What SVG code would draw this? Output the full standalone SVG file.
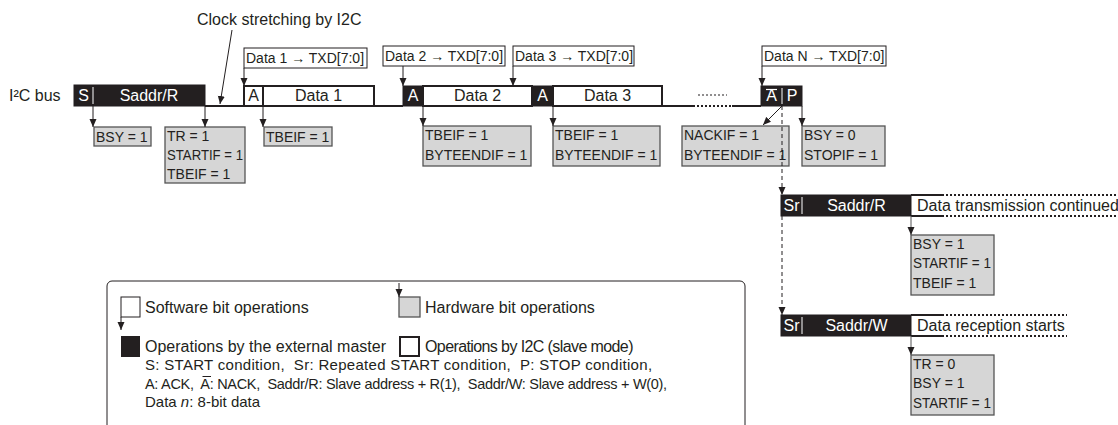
<svg xmlns="http://www.w3.org/2000/svg" width="1118" height="425" viewBox="0 0 1118 425">
<defs>
<style>
text{font-family:"Liberation Sans",Arial,Helvetica,sans-serif;fill:#231f20}
.t16{font-size:16px}
.t14{font-size:14px}
.w{fill:#fff}
.blk{fill:#231f20;stroke:#231f20;stroke-width:1}
.wht{fill:#fff;stroke:#231f20;stroke-width:2}
.flag{fill:#d6d6d6;stroke:#555;stroke-width:1.3}
.lbl{fill:#fff;stroke:#231f20;stroke-width:1}
.ln{stroke:#231f20;stroke-width:1;fill:none}
.bus{stroke:#231f20;stroke-width:2;fill:none}
.dot{stroke:#231f20;stroke-width:2;stroke-dasharray:2,2;fill:none}
.dash{stroke:#231f20;stroke-width:1;stroke-dasharray:4,3;fill:none}
.div{stroke:#fff;stroke-width:1}
</style>
<marker id="ah" viewBox="0 0 8 8" refX="8" refY="4" markerWidth="8" markerHeight="8" orient="auto" markerUnits="userSpaceOnUse">
<path d="M0,0.5 L8,4 L0,7.5 z" fill="#231f20"/>
</marker>
</defs>
<rect width="1118" height="425" fill="#fff"/>

<g id="title">
<text class="t16" x="197" y="25">Clock stretching by I2C</text>
<text class="t16" x="9" y="101">I²C bus</text>
</g>

<g id="bus-lines">
<line class="bus" x1="205" y1="106" x2="244" y2="106"/>
<line class="bus" x1="374" y1="106" x2="403" y2="106"/>
<line class="bus" x1="662" y1="106" x2="693" y2="106"/>
<line class="dot" x1="693" y1="106" x2="732" y2="106"/>
<line class="dot" x1="698" y1="95" x2="727" y2="95" style="stroke-width:1.2"/>
<line class="bus" x1="732" y1="106" x2="761" y2="106"/>
</g>

<g id="start-saddr">
<rect class="blk" x="74" y="85" width="131" height="21"/>
<line class="div" x1="93" y1="87" x2="93" y2="104"/>
<text class="t16 w" x="83.5" y="101" text-anchor="middle">S</text>
<text class="t16 w" x="149" y="101" text-anchor="middle">Saddr/R</text>
</g>

<g id="data1">
<rect class="wht" x="244" y="86" width="130" height="20"/>
<line class="ln" x1="263" y1="86" x2="263" y2="106" style="stroke-width:2"/>
<text class="t16" x="253.5" y="101" text-anchor="middle">A</text>
<text class="t16" x="318.5" y="101" text-anchor="middle">Data 1</text>
</g>

<g id="data2">
<rect class="blk" x="403" y="86" width="20" height="20"/>
<text class="t16 w" x="413" y="101" text-anchor="middle">A</text>
<rect class="wht" x="423" y="86" width="109" height="20"/>
<text class="t16" x="477.5" y="101" text-anchor="middle">Data 2</text>
</g>

<g id="data3">
<rect class="blk" x="532" y="86" width="21" height="20"/>
<text class="t16 w" x="542.5" y="101" text-anchor="middle">A</text>
<rect class="wht" x="553" y="86" width="109" height="20"/>
<text class="t16" x="607.5" y="101" text-anchor="middle">Data 3</text>
</g>

<g id="nack-stop">
<rect class="blk" x="761" y="86" width="41" height="20"/>
<line class="div" x1="782" y1="88" x2="782" y2="104"/>
<text class="t16 w" x="771.5" y="101" text-anchor="middle">A</text>
<line x1="766" y1="89.5" x2="777" y2="89.5" stroke="#fff" stroke-width="1.2"/>
<text class="t16 w" x="792" y="101" text-anchor="middle">P</text>
</g>

<g id="label-data1">
<rect class="lbl" x="244" y="48" width="123" height="20"/>
<text class="t14" x="246" y="63">Data 1 → TXD[7:0]</text>
</g>
<g id="label-data2">
<rect class="lbl" x="383" y="46" width="122" height="20"/>
<text class="t14" x="385" y="61">Data 2 → TXD[7:0]</text>
</g>
<g id="label-data3">
<rect class="lbl" x="513" y="46" width="121" height="20"/>
<text class="t14" x="515" y="61">Data 3 → TXD[7:0]</text>
</g>
<g id="label-dataN">
<rect class="lbl" x="762" y="46" width="124" height="20"/>
<text class="t14" x="764" y="61">Data N → TXD[7:0]</text>
</g>

<g id="flag-bsy1">
<rect class="flag" x="94" y="127" width="57" height="19"/>
<text class="t14" x="96" y="142">BSY = 1</text>
</g>
<g id="flag-tr">
<rect class="flag" x="165" y="127" width="80" height="56"/>
<text class="t14" x="167" y="141">TR = 1</text>
<text class="t14" x="167" y="160" textLength="76" lengthAdjust="spacingAndGlyphs">STARTIF = 1</text>
<text class="t14" x="167" y="179">TBEIF = 1</text>
</g>
<g id="flag-tbeif1">
<rect class="flag" x="264" y="127" width="68" height="19"/>
<text class="t14" x="266" y="142">TBEIF = 1</text>
</g>
<g id="flag-data2">
<rect class="flag" x="423" y="126" width="108" height="40"/>
<text class="t14" x="425" y="140">TBEIF = 1</text>
<text class="t14" x="425" y="160">BYTEENDIF = 1</text>
</g>
<g id="flag-data3">
<rect class="flag" x="553" y="126" width="107" height="40"/>
<text class="t14" x="555" y="140">TBEIF = 1</text>
<text class="t14" x="555" y="160">BYTEENDIF = 1</text>
</g>
<g id="flag-nack">
<rect class="flag" x="682" y="126" width="107" height="40"/>
<text class="t14" x="684" y="140">NACKIF = 1</text>
<text class="t14" x="684" y="160">BYTEENDIF = 1</text>
</g>
<g id="flag-stop">
<rect class="flag" x="802" y="126" width="83" height="40"/>
<text class="t14" x="804" y="140">BSY = 0</text>
<text class="t14" x="804" y="160">STOPIF = 1</text>
</g>

<g id="restart-read">
<line class="bus" x1="911" y1="195" x2="942" y2="195"/>
<line class="bus" x1="911" y1="216" x2="942" y2="216"/>
<line class="dot" x1="942" y1="195" x2="1118" y2="195"/>
<line class="dot" x1="942" y1="216" x2="1118" y2="216"/>
<rect class="blk" x="781" y="195" width="130" height="21"/>
<line class="div" x1="802" y1="197" x2="802" y2="214"/>
<text class="t16 w" x="791.5" y="211" text-anchor="middle">Sr</text>
<text class="t16 w" x="856.5" y="211" text-anchor="middle">Saddr/R</text>
<text class="t16" x="917" y="211">Data transmission continued</text>
</g>
<g id="flag-restart-read">
<rect class="flag" x="911" y="235" width="83" height="60"/>
<text class="t14" x="913" y="249">BSY = 1</text>
<text class="t14" x="913" y="268" textLength="78" lengthAdjust="spacingAndGlyphs">STARTIF = 1</text>
<text class="t14" x="913" y="288">TBEIF = 1</text>
</g>

<g id="restart-write">
<line class="bus" x1="911" y1="315" x2="942" y2="315"/>
<line class="bus" x1="911" y1="336" x2="942" y2="336"/>
<line class="dot" x1="942" y1="315" x2="1067" y2="315"/>
<line class="dot" x1="942" y1="336" x2="1067" y2="336"/>
<rect class="blk" x="781" y="315" width="130" height="21"/>
<line class="div" x1="802" y1="317" x2="802" y2="334"/>
<text class="t16 w" x="791.5" y="331" text-anchor="middle">Sr</text>
<text class="t16 w" x="856.5" y="331" text-anchor="middle">Saddr/W</text>
<text class="t16" x="917" y="331">Data reception starts</text>
</g>
<g id="flag-restart-write">
<rect class="flag" x="911" y="355" width="83" height="60"/>
<text class="t14" x="913" y="369">TR = 0</text>
<text class="t14" x="913" y="388">BSY = 1</text>
<text class="t14" x="913" y="408" textLength="78" lengthAdjust="spacingAndGlyphs">STARTIF = 1</text>
</g>

<g id="connectors">
<line class="ln" x1="232" y1="30" x2="220" y2="104" marker-end="url(#ah)"/>
<line class="ln" x1="244" y1="68" x2="244" y2="86" marker-end="url(#ah)"/>
<line class="ln" x1="403" y1="66" x2="403" y2="86" marker-end="url(#ah)"/>
<line class="ln" x1="513" y1="66" x2="513" y2="86" marker-end="url(#ah)"/>
<line class="ln" x1="762" y1="66" x2="762" y2="86" marker-end="url(#ah)"/>
<line class="ln" x1="93" y1="106" x2="93" y2="127" marker-end="url(#ah)"/>
<line class="ln" x1="205" y1="106" x2="205" y2="127" marker-end="url(#ah)"/>
<line class="ln" x1="263" y1="106" x2="263" y2="127" marker-end="url(#ah)"/>
<line class="ln" x1="423" y1="106" x2="423" y2="126" marker-end="url(#ah)"/>
<line class="ln" x1="553" y1="106" x2="553" y2="126" marker-end="url(#ah)"/>
<line class="ln" x1="782" y1="106" x2="763" y2="125" marker-end="url(#ah)"/>
<line class="ln" x1="802" y1="106" x2="802" y2="126" marker-end="url(#ah)"/>
<line class="dash" x1="782" y1="106" x2="782" y2="195" marker-end="url(#ah)"/>
<line class="dash" x1="782" y1="216" x2="782" y2="315" marker-end="url(#ah)"/>
<line class="ln" x1="911" y1="216" x2="911" y2="235" marker-end="url(#ah)" style="stroke:#555"/>
<line class="ln" x1="911" y1="336" x2="911" y2="355" marker-end="url(#ah)" style="stroke:#555"/>
</g>

<g id="legend">
<rect x="107" y="281" width="638" height="160" rx="5" fill="none" stroke="#231f20" stroke-width="1"/>
<rect x="121" y="297" width="19" height="20" fill="#fff" stroke="#231f20" stroke-width="1"/>
<line class="ln" x1="121" y1="317" x2="121" y2="330" marker-end="url(#ah)"/>
<text class="t16" x="145" y="313">Software bit operations</text>
<rect class="flag" x="399" y="297" width="21" height="20"/>
<line class="ln" x1="399" y1="283" x2="399" y2="297" marker-end="url(#ah)"/>
<text class="t16" x="425" y="313">Hardware bit operations</text>
<rect x="121" y="336" width="19" height="21" fill="#231f20"/>
<text class="t16" x="145" y="352">Operations by the external master</text>
<rect x="400" y="337" width="19" height="19" fill="#fff" stroke="#231f20" stroke-width="2"/>
<text x="425" y="352" style="font-size:16px;letter-spacing:-0.6px">Operations by I2C (slave mode)</text>
<text x="145" y="370" xml:space="preserve" style="font-size:15px;letter-spacing:0.3px">S: START condition,  Sr: Repeated START condition,  P: STOP condition,</text>
<text x="145" y="389" xml:space="preserve" style="font-size:14.5px;letter-spacing:-0.3px">A: ACK,  A: NACK,  Saddr/R: Slave address + R(1),  Saddr/W: Slave address + W(0),</text>
<line x1="202.5" y1="376.5" x2="211" y2="376.5" stroke="#231f20" stroke-width="1"/>
<text x="145" y="407" style="font-size:15px">Data <tspan font-style="italic">n</tspan>: 8-bit data</text>
</g>
</svg>
